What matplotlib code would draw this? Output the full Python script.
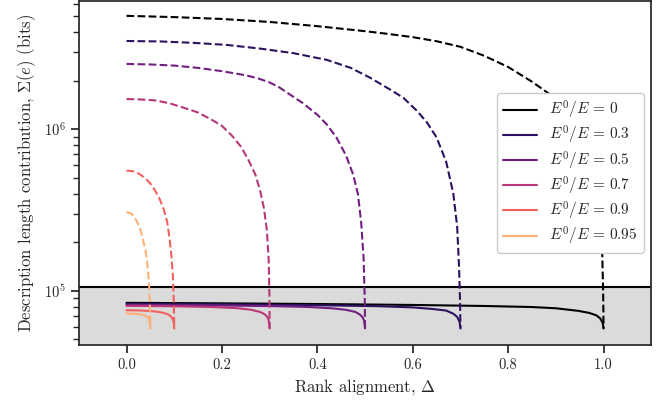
import matplotlib
matplotlib.use("Agg")
import matplotlib.pyplot as plt
import seaborn as sns

sns.set_style("ticks")
plt.rcParams.update({
    "font.family": "serif",
    "font.serif": ["cmr10", "DejaVu Serif"],
    "mathtext.fontset": "cm",
    "axes.unicode_minus": False,
    "axes.formatter.use_mathtext": True,
    "axes.edgecolor": ".15",
    "axes.linewidth": 1.25,
    "xtick.major.width": 1.25,
    "ytick.major.width": 1.25,
    "ytick.minor.width": 1.0,
    "xtick.major.size": 6,
    "ytick.major.size": 6,
    "ytick.minor.size": 4,
})

labels = ["0", "0.3", "0.5", "0.7", "0.9", "0.95"]
colors = ["#000000"] + sns.color_palette("magma", 5).as_hex()

# dashed curves
dash_x = [
    [0, 0.1, 0.2, 0.3, 0.4, 0.5, 0.55, 0.6, 0.65, 0.7, 0.75, 0.8, 0.85, 0.9, 0.93, 0.96,
     0.98, 0.99, 0.995, 0.997, 0.999, 1.0],
    [0, 0.07, 0.14, 0.21, 0.28, 0.35, 0.42, 0.47, 0.51, 0.55, 0.58, 0.61, 0.63, 0.65, 0.67,
     0.685, 0.693, 0.697, 0.699, 0.7],
    [0, 0.05, 0.1, 0.15, 0.2, 0.25, 0.275, 0.3, 0.32, 0.34, 0.37, 0.4, 0.42, 0.44, 0.46,
     0.475, 0.485, 0.492, 0.497, 0.4993, 0.5],
    [0, 0.03, 0.06, 0.09, 0.12, 0.15, 0.18, 0.2, 0.22, 0.24, 0.255, 0.27, 0.28, 0.288,
     0.294, 0.298, 0.2995, 0.3],
    [0, 0.01, 0.02, 0.03, 0.04, 0.05, 0.06, 0.07, 0.078, 0.085, 0.09, 0.094, 0.097, 0.099, 0.1],
    [0, 0.005, 0.01, 0.015, 0.02, 0.025, 0.03, 0.035, 0.04, 0.044, 0.047, 0.049, 0.05],
]
dash_y = [
    [5.04e6, 4.95e6, 4.82e6, 4.62e6, 4.35e6, 4.05e6, 3.89e6, 3.72e6, 3.51e6, 3.24e6,
     2.85e6, 2.43e6, 1.97e6, 1.55e6, 1.23e6, 8.71e5, 5.75e5, 3.98e5, 2.51e5, 1.78e5,
     1.0e5, 5.85e4],
    [3.52e6, 3.50e6, 3.43e6, 3.33e6, 3.16e6, 2.96e6, 2.69e6, 2.40e6, 2.09e6, 1.78e6,
     1.57e6, 1.29e6, 1.10e6, 8.9e5, 6.3e5, 4.0e5, 2.51e5, 1.41e5, 8.9e4, 5.85e4],
    [2.54e6, 2.52e6, 2.48e6, 2.40e6, 2.29e6, 2.16e6, 2.07e6, 1.95e6, 1.82e6, 1.66e6,
     1.45e6, 1.23e6, 1.07e6, 8.9e5, 6.9e5, 5.25e5, 3.98e5, 2.63e5, 1.58e5, 8.9e4, 5.85e4],
    [1.54e6, 1.53e6, 1.51e6, 1.45e6, 1.36e6, 1.27e6, 1.14e6, 1.05e6, 9.2e5, 7.8e5,
     6.5e5, 5.25e5, 4.17e5, 3.24e5, 2.40e5, 1.55e5, 9.5e4, 5.85e4],
    [5.55e5, 5.52e5, 5.43e5, 5.22e5, 4.95e5, 4.62e5, 4.17e5, 3.67e5, 3.20e5, 2.69e5,
     2.14e5, 1.66e5, 1.26e5, 8.9e4, 5.85e4],
    [3.06e5, 3.05e5, 3.00e5, 2.90e5, 2.75e5, 2.57e5, 2.34e5, 2.04e5, 1.76e5, 1.43e5,
     1.12e5, 8.5e4, 5.85e4],
]

# solid curves
solid_x = [
    [0, 0.2, 0.4, 0.6, 0.75, 0.85, 0.9, 0.947, 0.97, 0.985, 0.993, 0.998, 1.0],
    [0, 0.2, 0.4, 0.53, 0.6, 0.64, 0.67, 0.685, 0.693, 0.698, 0.7],
    [0, 0.15, 0.3, 0.38, 0.43, 0.46, 0.48, 0.49, 0.495, 0.498, 0.5],
    [0, 0.1, 0.18, 0.23, 0.26, 0.28, 0.29, 0.295, 0.298, 0.3],
    [0, 0.03, 0.06, 0.077, 0.087, 0.093, 0.097, 0.099, 0.1],
    [0, 0.015, 0.03, 0.039, 0.044, 0.047, 0.049, 0.05],
]
solid_y = [
    [84300, 83700, 82900, 81800, 80600, 79400, 78000, 75200, 73000, 70500, 67500, 63500, 58500],
    [83100, 82500, 81500, 80300, 79000, 77300, 75500, 72200, 69000, 64500, 58500],
    [81900, 81400, 80500, 79500, 78000, 76300, 74000, 71000, 68500, 65300, 58500],
    [80700, 80300, 79400, 78200, 76500, 74000, 71500, 69000, 65800, 58500],
    [75900, 75600, 74600, 73200, 71500, 69500, 66800, 63500, 58500],
    [72400, 72200, 71500, 70300, 68800, 66800, 63500, 58500],
]

threshold = 1.05e5

fig, ax = plt.subplots(figsize=(6.68, 4.03), dpi=100)
fig.subplots_adjust(left=0.118, right=0.975, top=0.997, bottom=0.144)

ax.axhspan(1e4, threshold, color="#dbdbdb", zorder=0, lw=0)
ax.axhline(threshold, color="black", lw=1.5, zorder=1)

for i in range(len(labels)):
    ax.plot(solid_x[i], solid_y[i], color=colors[i], lw=1.5,
            label=r"$E^0/E\,=\,%s$" % labels[i], zorder=2)
    ax.plot(dash_x[i], dash_y[i], color=colors[i], lw=1.5, ls="--", zorder=3)

ax.set_yscale("log")
ax.set_xlim(-0.1, 1.1)
ax.set_ylim(10**4.665, 10**6.793)
ax.set_xticks([0.0, 0.2, 0.4, 0.6, 0.8, 1.0])
ax.set_xticklabels(["0.0", "0.2", "0.4", "0.6", "0.8", "1.0"])
ax.tick_params(labelsize=10.5, colors=".15")

ax.set_xlabel(r"Rank alignment, $\Delta$", fontsize=12)
ax.set_ylabel(r"Description length contribution, $\Sigma(e)$ (bits)", fontsize=12)

ax.legend(loc="center right", fontsize=11, framealpha=1, labelspacing=0.2,
          handlelength=2.2)

fig.savefig("out.png", dpi=100)
